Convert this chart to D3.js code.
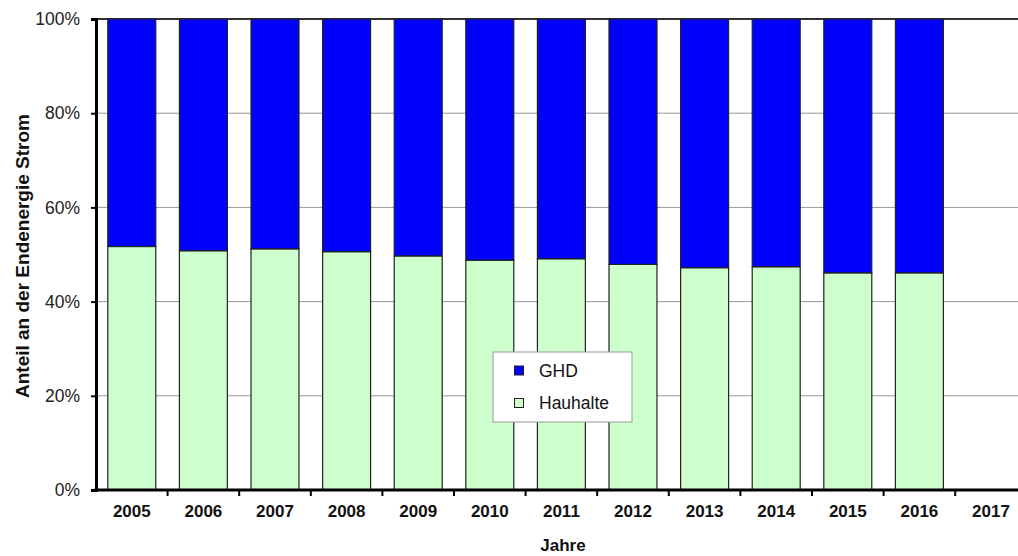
<!DOCTYPE html>
<html>
<head>
<meta charset="utf-8">
<script src="https://cdn.jsdelivr.net/npm/d3@7"></script>
<style>
  body { margin: 0; background: #fff; }
  svg { display: block; font-family: Arial, "Liberation Sans", sans-serif; }
</style>
</head>
<body>
<svg id="chart" width="1018" height="556"></svg>
<script>
// Anteile am Endenergieverbrauch Strom (Prozent)
const years = ["2005","2006","2007","2008","2009","2010","2011","2012","2013","2014","2015","2016","2017"];
const haushalte = [51.7, 50.8, 51.2, 50.6, 49.7, 48.8, 49.1, 47.9, 47.2, 47.4, 46.1, 46.1, null];
const ghd = haushalte.map(v => v == null ? null : 100 - v);
const yTicks = [0, 20, 40, 60, 80, 100];
const seriesNames = ["GHD", "Hauhalte"];
const seriesColors = ["#0000FF", "#CCFFCC"];

const svg = d3.select("#chart");
const plotLeft = 96, plotTop = 19, plotBottom = 490;
const bandW = 71.6;
const plotRight = plotLeft + years.length * bandW;

const x = d3.scaleBand().domain(years).range([plotLeft, plotRight]).paddingInner(0.33).paddingOuter(0.165);
const y = d3.scaleLinear().domain([0, 100]).range([plotBottom, plotTop]);

// Gitterlinien
svg.append("g").selectAll("line").data(yTicks.filter(t => t > 0 && t < 100)).join("line")
  .attr("x1", plotLeft).attr("x2", 1018)
  .attr("y1", d => y(d)).attr("y2", d => y(d))
  .attr("stroke", "#999").attr("stroke-width", 1);

// Oberer Rand
svg.append("line").attr("x1", plotLeft).attr("x2", 1018).attr("y1", y(100)).attr("y2", y(100))
  .attr("stroke", "#333").attr("stroke-width", 2);

// Gestapelte Säulen
const rows = years.map((yr, i) => ({ year: yr, h: haushalte[i], g: ghd[i] })).filter(d => d.h != null);
const bars = svg.append("g");
bars.selectAll("rect.h").data(rows).join("rect")
  .attr("x", d => x(d.year)).attr("width", x.bandwidth())
  .attr("y", d => y(d.h)).attr("height", d => y(0) - y(d.h))
  .attr("fill", seriesColors[1]).attr("stroke", "#222").attr("stroke-width", 1.2);
bars.selectAll("rect.g").data(rows).join("rect")
  .attr("x", d => x(d.year)).attr("width", x.bandwidth())
  .attr("y", d => y(d.h + d.g)).attr("height", d => y(d.h) - y(d.h + d.g))
  .attr("fill", seriesColors[0]).attr("stroke", "#222").attr("stroke-width", 1.2);

// Y-Achse
const yAxis = d3.axisLeft(y).tickValues(yTicks).tickFormat(d => d + "%").tickSize(5).tickPadding(11);
const gy = svg.append("g").attr("transform", `translate(${plotLeft},0)`).call(yAxis);
gy.select(".domain").attr("stroke", "#000").attr("stroke-width", 3);
gy.selectAll(".tick line").attr("stroke", "#000").attr("stroke-width", 2);
gy.selectAll(".tick text").attr("font-size", 17.5).attr("fill", "#222");

// X-Achse
svg.append("line").attr("x1", plotLeft - 1.5).attr("x2", 1018).attr("y1", plotBottom).attr("y2", plotBottom)
  .attr("stroke", "#000").attr("stroke-width", 3);
const boundaries = d3.range(1, years.length).map(i => plotLeft + i * bandW);
svg.append("g").selectAll("line").data(boundaries).join("line")
  .attr("x1", d => d).attr("x2", d => d).attr("y1", plotBottom).attr("y2", plotBottom + 6)
  .attr("stroke", "#000").attr("stroke-width", 2);
svg.append("g").selectAll("text").data(years).join("text")
  .attr("x", d => x(d) + x.bandwidth() / 2).attr("y", 517)
  .attr("text-anchor", "middle").attr("font-size", 17).attr("font-weight", "bold").attr("fill", "#111")
  .text(d => d);

// Achsentitel
svg.append("text").attr("x", 563).attr("y", 551).attr("text-anchor", "middle")
  .attr("font-size", 17).attr("font-weight", "bold").attr("fill", "#111").text("Jahre");
svg.append("text").attr("transform", "translate(29,256) rotate(-90)").attr("text-anchor", "middle")
  .attr("font-size", 19).attr("font-weight", "bold").attr("fill", "#111").text("Anteil an der Endenergie Strom");

// Legende
const lg = svg.append("g").attr("transform", "translate(493,352)");
lg.append("rect").attr("width", 139).attr("height", 70).attr("fill", "#fff").attr("stroke", "#999").attr("stroke-width", 1);
seriesNames.forEach((name, i) => {
  const cy = 18.5 + i * 32.5;
  lg.append("rect").attr("x", 21.5).attr("y", cy - 4.5).attr("width", 9).attr("height", 9)
    .attr("fill", seriesColors[i]).attr("stroke", "#222").attr("stroke-width", 1);
  lg.append("text").attr("x", 46).attr("y", cy).attr("dy", "0.35em")
    .attr("font-size", 17.5).attr("fill", "#111").text(name);
});
</script>
</body>
</html>
